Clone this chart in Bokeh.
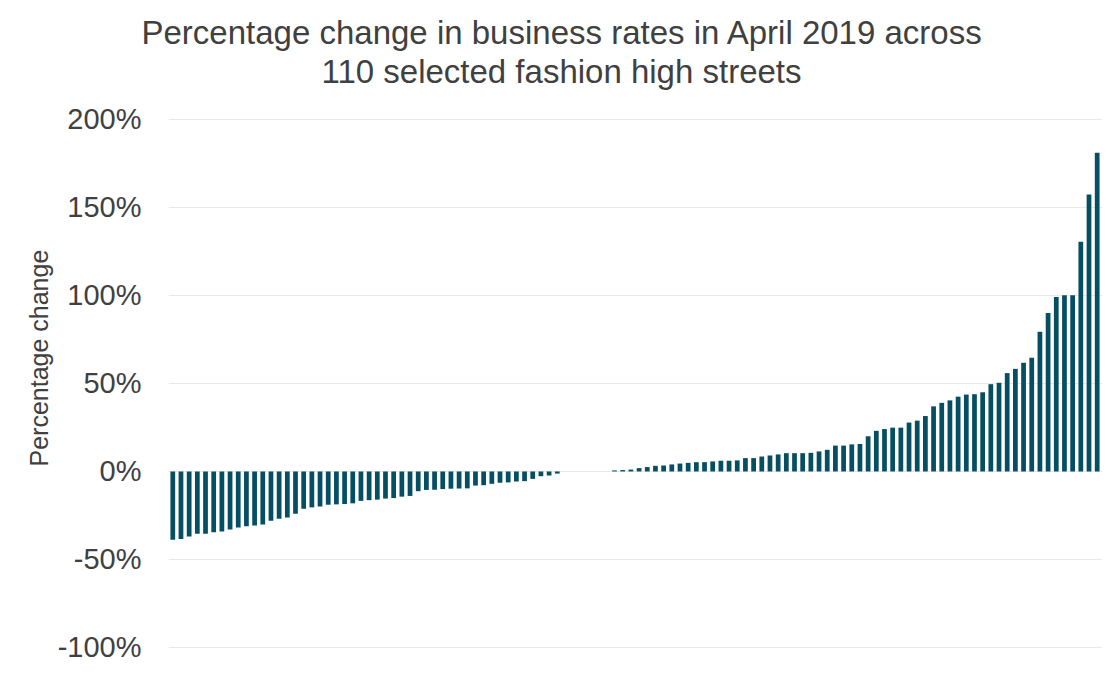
from bokeh.plotting import figure
from bokeh.models import ColumnDataSource, FixedTicker, PrintfTickFormatter, Range1d, Title
from bokeh.embed import file_html
from bokeh.resources import INLINE

# ---- data (percentage change per high street, sorted) ----
negative_changes = [-38.8, -38.3, -36.9, -35.4, -35.4, -34.5, -34.1, -33.0, -31.8, -31.1,
                    -30.7, -30.1, -28.0, -26.9, -26.1, -24.0, -21.2, -20.4, -19.9, -18.9,
                    -18.7, -18.5, -18.1, -16.7, -16.3, -16.0, -15.4, -15.1, -14.3, -13.9,
                    -11.2, -10.5, -10.4, -10.0, -9.8, -9.7, -9.6, -8.0, -7.8, -7.0,
                    -6.4, -6.2, -5.7, -5.5, -4.2, -2.7, -2.3, -1.2]
zero_changes = [0.0, 0.0, 0.0, 0.0, 0.0, 0.0]
positive_changes = [0.6, 0.8, 1.1, 1.9, 2.5, 3.2, 3.4, 4.0, 4.5, 4.9,
                    5.3, 5.3, 5.7, 6.1, 6.1, 6.3, 7.6, 7.6, 8.5, 9.1,
                    9.7, 10.4, 10.4, 10.4, 10.6, 11.4, 12.3, 14.7, 14.7, 15.4,
                    15.6, 20.0, 23.1, 24.1, 24.9, 24.9, 27.8, 28.9, 31.5, 37.0,
                    39.0, 40.4, 42.5, 43.7, 43.9, 45.0, 49.6, 50.4, 55.9, 58.3,
                    61.8, 64.6, 79.4, 90.1, 99.2, 100.1, 100.1, 130.5, 157.4, 181.1]
y_ticks = [-100, -50, 0, 50, 100, 150, 200]
title_lines = ["Percentage change in business rates in April 2019 across",
               "110 selected fashion high streets"]
y_label = "Percentage change"

values = negative_changes + zero_changes + positive_changes
positions = list(range(len(values)))
source = ColumnDataSource(data=dict(x=positions, top=values))

FONT = "Liberation Sans"
TEXT_COLOR = "#404040"
BAR_COLOR = "#064f63"

p = figure(width=1112, height=668, output_backend="svg", toolbar_location=None,
           x_axis_location=None,
           x_range=Range1d(-0.525, len(values) - 1 + 0.65),
           y_range=Range1d(-107.4, 205.1),
           min_border_left=168, min_border_right=10,
           min_border_top=110, min_border_bottom=8)
p.outline_line_color = None
p.background_fill_color = "white"
p.border_fill_color = "white"

p.vbar(x="x", top="top", bottom=0, width=0.58, source=source,
       fill_color=BAR_COLOR, line_color=None)

p.xgrid.grid_line_color = None
p.ygrid.grid_line_color = "#e9e9e9"
p.ygrid.grid_line_width = 1
p.ygrid.ticker = FixedTicker(ticks=y_ticks)

ax = p.yaxis[0]
ax.ticker = FixedTicker(ticks=y_ticks)
ax.formatter = PrintfTickFormatter(format="%d%%")
ax.axis_line_color = None
ax.major_tick_line_color = None
ax.minor_tick_line_color = None
ax.major_tick_out = 0
ax.major_tick_in = 0
ax.major_label_standoff = 27
ax.major_label_text_font = FONT
ax.major_label_text_font_size = "29px"
ax.major_label_text_color = TEXT_COLOR

# Title: spacer, then line 2, then line 1 (outwards from the frame)
p.add_layout(Title(text=" ", text_font_size="10px", standoff=8), "above")
p.add_layout(Title(text=title_lines[1], align="left", offset=153, vertical_align="bottom",
                   standoff=0, text_font=FONT, text_font_size="33px",
                   text_font_style="normal", text_color=TEXT_COLOR), "above")
p.add_layout(Title(text=title_lines[0], align="left", offset=-27, vertical_align="bottom",
                   standoff=0, text_font=FONT, text_font_size="33px",
                   text_font_style="normal", text_color=TEXT_COLOR), "above")

# Y axis label as a left-side title
p.add_layout(Title(text=y_label, align="left", offset=194, vertical_align="middle",
                   standoff=1, text_font=FONT, text_font_size="25px",
                   text_font_style="normal", text_color=TEXT_COLOR), "left")

open("out.html", "w").write(file_html(p, INLINE))
